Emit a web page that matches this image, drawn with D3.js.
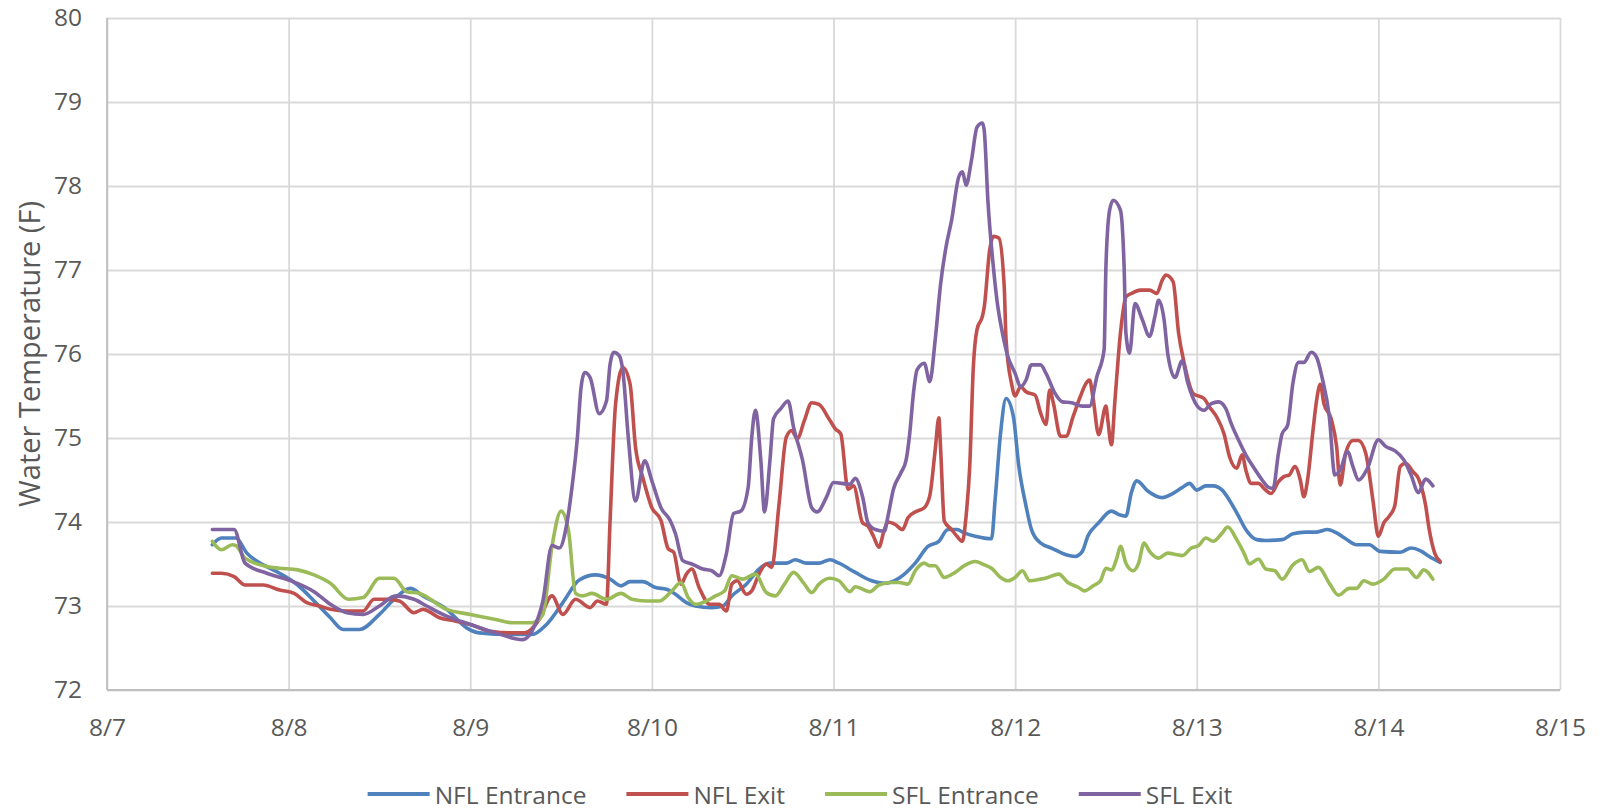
<!DOCTYPE html>
<html>
<head>
<meta charset="utf-8">
<script src="https://cdn.jsdelivr.net/npm/d3@7"></script>
<style>
  body { margin: 0; background: #fff; }
  text { font-family: "Open Sans", sans-serif; fill: #595959; }
</style>
</head>
<body>
<svg id="chart" width="1600" height="811"></svg>
<script>
// days since 8/7 00:00 -> tick labels
const dayLabels = ['8/7', '8/8', '8/9', '8/10', '8/11', '8/12', '8/13', '8/14', '8/15'];
const yTicks = [72, 73, 74, 75, 76, 77, 78, 79, 80];
const seriesNames = ['NFL Entrance', 'NFL Exit', 'SFL Entrance', 'SFL Exit'];
const seriesColors = ['#4F81BD', '#C0504D', '#9BBB59', '#8064A2'];

// [day offset, water temp F]
const nflEntrance = [
  [0.58,73.73],[0.63,73.81],[0.71,73.81],[0.77,73.63],[0.86,73.49],[0.95,73.39],[1.05,73.25],[1.14,73.06],
  [1.23,72.86],[1.30,72.72],[1.39,72.72],[1.50,72.90],[1.59,73.10],[1.67,73.21],[1.74,73.12],[1.87,72.96],
  [1.98,72.74],[2.05,72.68],[2.23,72.66],[2.34,72.66],[2.42,72.78],[2.51,73.04],[2.60,73.31],[2.69,73.37],
  [2.77,73.32],[2.83,73.24],[2.88,73.29],[2.95,73.29],[3.02,73.22],[3.08,73.20],[3.13,73.14],[3.19,73.04],
  [3.24,73.00],[3.33,72.98],[3.39,73.00],[3.44,73.12],[3.52,73.26],[3.59,73.44],[3.65,73.51],[3.74,73.51],
  [3.79,73.55],[3.85,73.51],[3.92,73.51],[3.98,73.55],[4.03,73.51],[4.12,73.40],[4.21,73.30],[4.28,73.27],
  [4.36,73.33],[4.45,73.51],[4.52,73.71],[4.58,73.77],[4.63,73.91],[4.68,73.91],[4.72,73.87],[4.78,73.83],
  [4.87,73.80],[4.89,74.27],[4.92,75.06],[4.95,75.47],[4.99,75.26],[5.02,74.67],[5.06,74.19],[5.09,73.91],
  [5.14,73.75],[5.20,73.69],[5.28,73.61],[5.33,73.59],[5.37,73.65],[5.40,73.83],[5.46,73.99],[5.53,74.13],
  [5.57,74.09],[5.61,74.07],[5.64,74.35],[5.67,74.49],[5.73,74.37],[5.81,74.29],[5.86,74.33],[5.92,74.41],
  [5.96,74.46],[6.00,74.38],[6.05,74.43],[6.09,74.43],[6.14,74.38],[6.18,74.26],[6.23,74.07],[6.27,73.91],
  [6.33,73.79],[6.38,73.78],[6.47,73.79],[6.53,73.86],[6.60,73.88],[6.66,73.88],[6.72,73.91],[6.77,73.87],
  [6.82,73.80],[6.88,73.73],[6.95,73.73],[7.01,73.65],[7.12,73.64],[7.18,73.69],[7.23,73.66],[7.28,73.59],
  [7.34,73.52]
];

const nflExit = [
  [0.58,73.39],[0.63,73.39],[0.70,73.35],[0.76,73.25],[0.86,73.25],[0.95,73.19],[1.03,73.15],[1.10,73.04],
  [1.17,73.00],[1.23,72.96],[1.32,72.94],[1.41,72.94],[1.47,73.08],[1.54,73.08],[1.61,73.06],[1.69,72.92],
  [1.74,72.96],[1.83,72.86],[1.92,72.82],[2.00,72.78],[2.11,72.70],[2.23,72.68],[2.30,72.68],[2.38,72.84],
  [2.45,73.12],[2.51,72.90],[2.58,73.08],[2.66,72.98],[2.70,73.06],[2.75,73.02],[2.77,74.02],[2.80,75.40],
  [2.84,75.84],[2.88,75.64],[2.91,74.89],[2.95,74.53],[3.00,74.17],[3.05,74.02],[3.09,73.68],[3.12,73.64],
  [3.16,73.26],[3.19,73.38],[3.22,73.44],[3.26,73.22],[3.32,73.02],[3.37,73.02],[3.41,72.94],[3.44,73.26],
  [3.47,73.30],[3.52,73.14],[3.55,73.18],[3.59,73.38],[3.63,73.50],[3.66,73.46],[3.70,74.21],[3.74,75.01],
  [3.77,75.09],[3.80,74.99],[3.84,75.21],[3.88,75.42],[3.92,75.40],[3.98,75.21],[4.01,75.11],[4.04,75.05],
  [4.08,74.39],[4.11,74.43],[4.16,73.99],[4.19,73.95],[4.22,73.83],[4.25,73.70],[4.28,73.91],[4.30,74.00],
  [4.34,73.97],[4.38,73.91],[4.41,74.05],[4.46,74.13],[4.50,74.17],[4.53,74.31],[4.56,74.86],[4.58,75.24],
  [4.59,74.86],[4.61,74.01],[4.65,73.91],[4.68,73.83],[4.71,73.77],[4.73,74.07],[4.75,74.66],[4.77,75.85],
  [4.79,76.29],[4.82,76.45],[4.83,76.56],[4.86,77.24],[4.88,77.40],[4.91,77.38],[4.94,76.80],[4.95,76.17],
  [4.98,75.65],[5.00,75.50],[5.03,75.61],[5.06,75.55],[5.11,75.51],[5.14,75.30],[5.17,75.16],[5.19,75.57],
  [5.21,75.42],[5.25,75.02],[5.28,75.02],[5.32,75.26],[5.36,75.50],[5.39,75.65],[5.41,75.69],[5.43,75.46],
  [5.46,75.04],[5.50,75.38],[5.51,75.22],[5.53,74.92],[5.55,75.46],[5.58,76.25],[5.61,76.68],[5.64,76.72],
  [5.69,76.76],[5.74,76.76],[5.78,76.72],[5.81,76.88],[5.83,76.94],[5.87,76.86],[5.90,76.25],[5.93,75.90],
  [5.98,75.53],[6.04,75.47],[6.07,75.37],[6.11,75.25],[6.15,75.05],[6.18,74.78],[6.22,74.64],[6.25,74.80],
  [6.27,74.62],[6.30,74.46],[6.34,74.46],[6.37,74.40],[6.41,74.34],[6.45,74.48],[6.48,74.54],[6.51,74.56],
  [6.54,74.66],[6.57,74.50],[6.59,74.30],[6.61,74.50],[6.64,75.09],[6.66,75.45],[6.68,75.64],[6.70,75.41],
  [6.74,75.23],[6.77,74.90],[6.79,74.44],[6.82,74.82],[6.86,74.97],[6.89,74.97],[6.93,74.82],[6.97,74.26],
  [7.00,73.83],[7.03,73.99],[7.06,74.07],[7.09,74.19],[7.12,74.66],[7.15,74.70],[7.19,74.60],[7.22,74.52],
  [7.26,74.20],[7.28,73.91],[7.31,73.63],[7.34,73.53]
];

const sflEntrance = [
  [0.58,73.77],[0.63,73.67],[0.69,73.73],[0.71,73.72],[0.76,73.57],[0.88,73.47],[0.95,73.45],[1.05,73.43],
  [1.14,73.37],[1.23,73.27],[1.33,73.08],[1.41,73.10],[1.50,73.33],[1.58,73.33],[1.65,73.17],[1.72,73.15],
  [1.87,72.96],[2.00,72.90],[2.14,72.84],[2.23,72.80],[2.34,72.80],[2.40,72.90],[2.45,73.71],[2.50,74.13],
  [2.54,73.91],[2.58,73.15],[2.62,73.12],[2.67,73.15],[2.75,73.08],[2.83,73.15],[2.89,73.08],[2.97,73.06],
  [3.04,73.06],[3.11,73.18],[3.16,73.28],[3.20,73.10],[3.24,73.02],[3.30,73.06],[3.35,73.12],[3.40,73.18],
  [3.44,73.36],[3.50,73.32],[3.57,73.38],[3.63,73.16],[3.68,73.12],[3.73,73.26],[3.78,73.40],[3.84,73.26],
  [3.88,73.16],[3.92,73.26],[3.98,73.33],[4.03,73.30],[4.09,73.17],[4.12,73.23],[4.20,73.17],[4.25,73.25],
  [4.32,73.28],[4.36,73.28],[4.41,73.26],[4.45,73.42],[4.50,73.51],[4.53,73.48],[4.56,73.48],[4.61,73.34],
  [4.67,73.40],[4.72,73.48],[4.78,73.53],[4.83,73.49],[4.87,73.45],[4.92,73.34],[4.96,73.30],[5.00,73.34],
  [5.04,73.42],[5.08,73.30],[5.14,73.32],[5.18,73.34],[5.24,73.38],[5.29,73.28],[5.35,73.22],[5.38,73.18],
  [5.43,73.24],[5.47,73.30],[5.50,73.45],[5.53,73.43],[5.56,73.57],[5.58,73.71],[5.61,73.51],[5.65,73.42],
  [5.68,73.51],[5.71,73.75],[5.74,73.65],[5.79,73.57],[5.84,73.63],[5.89,73.61],[5.92,73.60],[5.97,73.69],
  [6.01,73.72],[6.05,73.81],[6.09,73.77],[6.14,73.87],[6.17,73.94],[6.22,73.79],[6.26,73.63],[6.29,73.50],
  [6.34,73.56],[6.38,73.44],[6.43,73.42],[6.47,73.32],[6.53,73.49],[6.58,73.55],[6.62,73.41],[6.67,73.46],
  [6.73,73.27],[6.78,73.13],[6.84,73.21],[6.88,73.21],[6.92,73.30],[6.97,73.26],[7.03,73.32],[7.09,73.44],
  [7.16,73.44],[7.21,73.34],[7.25,73.43],[7.30,73.32]
];

const sflExit = [
  [0.58,73.91],[0.70,73.91],[0.76,73.51],[0.88,73.39],[1.00,73.31],[1.14,73.17],[1.23,73.02],[1.32,72.92],
  [1.41,72.90],[1.50,73.00],[1.59,73.12],[1.69,73.08],[1.76,73.00],[1.87,72.88],[2.00,72.78],[2.14,72.68],
  [2.29,72.60],[2.34,72.70],[2.40,73.06],[2.45,73.72],[2.49,73.69],[2.53,73.96],[2.56,74.41],[2.59,75.01],
  [2.61,75.60],[2.63,75.78],[2.66,75.72],[2.71,75.29],[2.75,75.44],[2.77,75.88],[2.79,76.02],[2.82,75.98],
  [2.84,75.80],[2.87,75.01],[2.91,74.25],[2.96,74.73],[3.00,74.49],[3.05,74.17],[3.10,74.02],[3.13,73.86],
  [3.17,73.54],[3.22,73.50],[3.28,73.44],[3.33,73.42],[3.37,73.36],[3.41,73.62],[3.45,74.10],[3.49,74.13],
  [3.53,74.41],[3.55,75.01],[3.57,75.33],[3.60,74.73],[3.62,74.12],[3.65,74.73],[3.67,75.23],[3.71,75.35],
  [3.75,75.44],[3.78,75.13],[3.83,74.73],[3.88,74.17],[3.91,74.12],[3.96,74.29],[4.00,74.47],[4.09,74.45],
  [4.12,74.52],[4.16,74.30],[4.19,73.99],[4.23,73.91],[4.28,73.89],[4.30,74.07],[4.33,74.39],[4.37,74.58],
  [4.40,74.74],[4.42,75.06],[4.44,75.53],[4.46,75.81],[4.50,75.89],[4.53,75.67],[4.56,76.17],[4.59,76.84],
  [4.62,77.28],[4.65,77.59],[4.69,78.11],[4.71,78.17],[4.73,78.01],[4.76,78.31],[4.79,78.70],[4.82,78.75],
  [4.83,78.66],[4.85,77.83],[4.88,77.04],[4.90,76.64],[4.93,76.25],[4.96,75.97],[5.00,75.77],[5.03,75.61],
  [5.06,75.69],[5.09,75.87],[5.14,75.87],[5.17,75.77],[5.22,75.53],[5.26,75.43],[5.31,75.42],[5.37,75.38],
  [5.41,75.38],[5.45,75.73],[5.49,76.05],[5.50,77.04],[5.52,77.71],[5.54,77.83],[5.58,77.71],[5.60,77.04],
  [5.61,76.25],[5.63,76.01],[5.66,76.60],[5.70,76.41],[5.74,76.21],[5.77,76.45],[5.79,76.64],[5.82,76.41],
  [5.84,76.01],[5.88,75.72],[5.92,75.92],[5.95,75.66],[6.00,75.39],[6.04,75.33],[6.08,75.41],[6.12,75.43],
  [6.16,75.35],[6.19,75.17],[6.24,74.93],[6.27,74.80],[6.31,74.66],[6.36,74.50],[6.39,74.42],[6.42,74.40],
  [6.45,74.82],[6.47,75.05],[6.50,75.15],[6.53,75.66],[6.56,75.90],[6.59,75.90],[6.63,76.02],[6.66,75.96],
  [6.69,75.72],[6.73,75.25],[6.76,74.56],[6.79,74.62],[6.83,74.84],[6.86,74.66],[6.89,74.50],[6.94,74.64],
  [7.00,74.98],[7.04,74.90],[7.09,74.85],[7.14,74.74],[7.18,74.56],[7.22,74.35],[7.26,74.51],[7.30,74.43]
];

const allSeries = [nflEntrance, nflExit, sflEntrance, sflExit];

const svg = d3.select('#chart');
const plotLeft = 107, plotRight = 1560, plotTop = 18, plotBottom = 690;

const x = d3.scaleLinear().domain([0, dayLabels.length - 1]).range([plotLeft, plotRight]);
const y = d3.scaleLinear().domain([yTicks[0], yTicks[yTicks.length - 1]]).range([plotBottom, plotTop]);

// horizontal grid + y labels
const yAxis = svg.append('g')
  .attr('transform', `translate(${plotLeft},0)`)
  .call(d3.axisLeft(y).tickValues(yTicks).tickSize(-(plotRight - plotLeft)).tickPadding(25).tickFormat(d3.format('d')));
yAxis.select('.domain').remove();
yAxis.selectAll('line').attr('stroke', '#D9D9D9').attr('stroke-width', 1.8);
yAxis.selectAll('text').style('font-size', '24.5px').attr('fill', '#595959');

// vertical grid + x labels
const xAxis = svg.append('g')
  .attr('transform', `translate(0,${plotBottom})`)
  .call(d3.axisBottom(x).tickValues(d3.range(dayLabels.length)).tickSize(-(plotBottom - plotTop)).tickPadding(29)
    .tickFormat(i => dayLabels[i]));
xAxis.select('.domain').remove();
xAxis.selectAll('line').attr('stroke', '#D9D9D9').attr('stroke-width', 1.8);
xAxis.selectAll('text').style('font-size', '24.5px').attr('fill', '#595959');

// axis lines
svg.append('line').attr('x1', plotLeft).attr('x2', plotLeft).attr('y1', plotTop).attr('y2', plotBottom)
  .attr('stroke', '#BFBFBF').attr('stroke-width', 1.8);
svg.append('line').attr('x1', plotLeft).attr('x2', plotRight).attr('y1', plotBottom).attr('y2', plotBottom)
  .attr('stroke', '#BFBFBF').attr('stroke-width', 1.8);

// y title
svg.append('text')
  .attr('transform', `translate(28,${(plotTop + plotBottom) / 2}) rotate(-90)`)
  .attr('text-anchor', 'middle')
  .attr('dominant-baseline', 'central')
  .style('font-size', '29px')
  .text('Water Temperature (F)');

// series lines
const line = d3.line()
  .x(d => x(d[0]))
  .y(d => y(d[1]))
  .curve(d3.curveMonotoneX);

svg.selectAll('.series')
  .data(allSeries)
  .join('path')
  .attr('class', 'series')
  .attr('d', line)
  .attr('fill', 'none')
  .attr('stroke', (d, i) => seriesColors[i])
  .attr('stroke-width', 3.6)
  .attr('stroke-linejoin', 'round')
  .attr('stroke-linecap', 'round');

// legend
const legend = svg.append('g');
const items = legend.selectAll('g')
  .data(seriesNames)
  .join('g');
items.append('line')
  .attr('x1', 0).attr('x2', 62).attr('y1', 0).attr('y2', 0)
  .attr('stroke', (d, i) => seriesColors[i])
  .attr('stroke-width', 4);
items.append('text')
  .attr('x', 67)
  .attr('dominant-baseline', 'central')
  .style('font-size', '24.5px')
  .text(d => d);

let offset = 0;
const widths = [];
items.each(function () {
  const w = 67 + d3.select(this).select('text').node().getComputedTextLength();
  widths.push(w);
});
const total = d3.sum(widths) + 40 * (widths.length - 1);
items.attr('transform', (d, i) => {
  const t = `translate(${offset},0)`;
  offset += widths[i] + 40;
  return t;
});
legend.attr('transform', `translate(${800 - total / 2},794)`);
</script>
</body>
</html>
